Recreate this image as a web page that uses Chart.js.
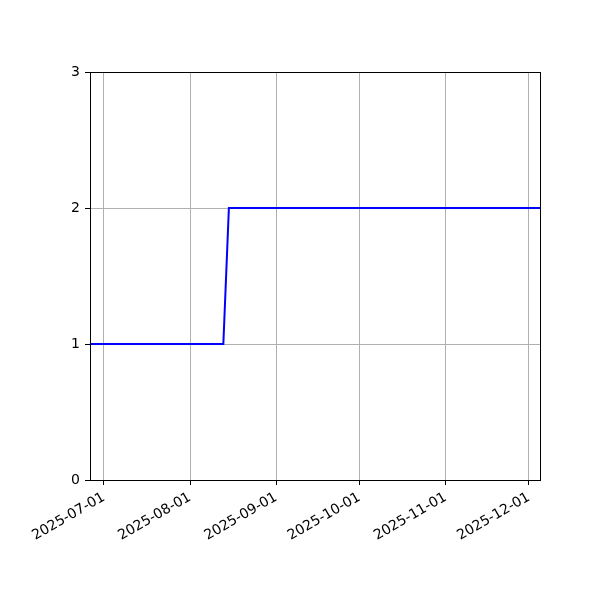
<!DOCTYPE html>
<html>
<head>
<meta charset="utf-8">
<script src="https://cdn.jsdelivr.net/npm/chart.js@4"></script>
<style>
  html, body { margin: 0; padding: 0; background: #fff; }
</style>
</head>
<body>
<canvas id="chart" width="600" height="600"></canvas>
<script>
// Step series
const dates = ['2025-06-26', '2025-08-13', '2025-08-15', '2025-12-05'];
const values = [1, 1, 2, 2];
const tickDates = ['2025-07-01', '2025-08-01', '2025-09-01', '2025-10-01', '2025-11-01', '2025-12-01'];
const yTicks = [0, 1, 2, 3];

function toMs(s) {
    const p = s.split('-').map(Number);
    return Date.UTC(p[0], p[1] - 1, p[2]);
}

function fmtDate(ms) {
    const d = new Date(ms);
    const mm = String(d.getUTCMonth() + 1).padStart(2, '0');
    const dd = String(d.getUTCDate()).padStart(2, '0');
    return d.getUTCFullYear() + '-' + mm + '-' + dd;
}

// draw the top and right spines too
const boxPlugin = {
    id: 'box',
    afterDraw(chart) {
        const a = chart.chartArea;
        const ctx = chart.ctx;
        ctx.save();
        ctx.strokeStyle = '#000';
        ctx.lineWidth = 1;
        ctx.strokeRect(Math.round(a.left) + 0.5, Math.round(a.top) + 0.5,
            Math.round(a.right - a.left), Math.round(a.bottom - a.top));
        ctx.restore();
    }
};

const font = { family: 'DejaVu Sans', size: 14 };

new Chart(document.getElementById('chart').getContext('2d'), {
    type: 'line',
    data: {
        datasets: [{
            data: dates.map((d, i) => ({ x: toMs(d), y: values[i] })),
            borderColor: '#0000ff',
            borderWidth: 2,
            pointRadius: 0,
            tension: 0,
            fill: false
        }]
    },
    options: {
        responsive: false,
        animation: false,
        devicePixelRatio: 1,
        layout: { padding: { left: 0, top: 72, right: 60, bottom: 0 } },
        plugins: {
            legend: { display: false },
            tooltip: { enabled: false }
        },
        scales: {
            x: {
                type: 'linear',
                min: toMs(dates[0]),
                max: toMs(dates[dates.length - 1]),
                afterBuildTicks: scale => {
                    scale.ticks = tickDates.map(d => ({ value: toMs(d) }));
                },
                afterFit: scale => { scale.height = 120; },
                grid: { color: '#b0b0b0', lineWidth: 1, tickColor: '#000', tickLength: 5 },
                border: { color: '#000', width: 1 },
                ticks: {
                    autoSkip: false,
                    minRotation: 30,
                    maxRotation: 30,
                    padding: 4,
                    color: '#000',
                    font: font,
                    callback: v => fmtDate(v)
                }
            },
            y: {
                min: 0,
                max: 3,
                afterBuildTicks: scale => {
                    scale.ticks = yTicks.map(v => ({ value: v }));
                },
                afterFit: scale => { scale.width = 90; },
                grid: { color: '#b0b0b0', lineWidth: 1, tickColor: '#000', tickLength: 5 },
                border: { color: '#000', width: 1 },
                ticks: {
                    padding: 5,
                    color: '#000',
                    font: font
                }
            }
        }
    },
    plugins: [boxPlugin]
});
</script>
</body>
</html>
